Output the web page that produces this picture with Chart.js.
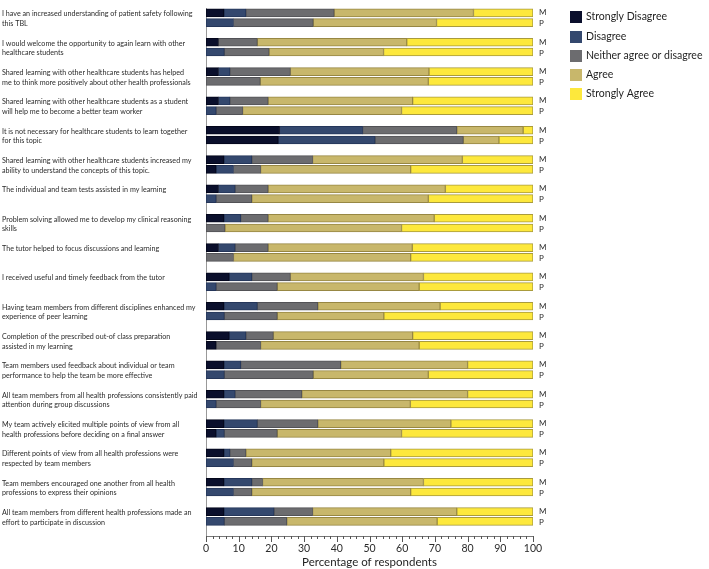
<!DOCTYPE html>
<html lang="en">
<head>
    <meta charset="UTF-8">
    <title>Perceptions of TBL by profession</title>
    <script src="https://cdn.jsdelivr.net/npm/chart.js"></script>
    <style>
        html, body { margin: 0; padding: 0; background: #ffffff; }
        #wrap { width: 709px; height: 569px; }
    </style>
</head>
<body>
    <div id="wrap"><canvas id="tblChart" width="709" height="569"></canvas></div>

    <script>
        // statements (each entry = lines of the label)
        const questions = [
            ['I have an increased understanding of patient safety following', 'this TBL'],
            ['I would welcome the opportunity to again learn with other', 'healthcare students'],
            ['Shared learning with other healthcare students has helped', 'me to think more positively about other health professionals'],
            ['Shared learning with other healthcare students as a student', 'will help me to become a better team worker'],
            ['It is not necessary for healthcare students to learn together', 'for this topic'],
            ['Shared learning with other healthcare students increased my', 'ability to understand the concepts of this topic.'],
            ['The individual and team tests assisted in my learning'],
            ['Problem solving allowed me to develop my clinical reasoning', 'skills'],
            ['The tutor helped to focus discussions and learning'],
            ['I received useful and timely feedback from the tutor'],
            ['Having team members from different disciplines enhanced my', 'experience of peer learning'],
            ['Completion of the prescribed out-of class preparation', 'assisted in my learning'],
            ['Team members used feedback about individual or team', 'performance to help the team be more effective'],
            ['All team members from all health professions consistently paid', 'attention during group discussions'],
            ['My team actively elicited multiple points of view from all', 'health professions before deciding on a final answer'],
            ['Different points of view from all health professions were', 'respected by team members'],
            ['Team members encouraged one another from all health', 'professions to express their opinions'],
            ['All team members from different health professions made an', 'effort to participate in discussion']
        ];
        const groups = ['M', 'P'];
        const responses = ['Strongly Disagree', 'Disagree', 'Neither agree or disagree', 'Agree', 'Strongly Agree'];

        // percentages, M = first bar, P = second bar of each statement
        const stronglyDisagreeM = [5.5, 3.8, 3.8, 3.8, 22.5, 5.5, 3.8, 5.5, 3.8, 7.1, 5.5, 7.1, 5.5, 5.5, 5.5, 5.5, 5.5, 5.5];
        const stronglyDisagreeP = [0, 0, 0, 0, 22.1, 3.1, 0, 0, 0, 0, 0, 3.1, 0, 0, 3.1, 0, 0, 0];
        const disagreeM = [6.7, 0, 3.5, 3.5, 25.4, 8.5, 5.1, 5.1, 5.1, 6.9, 10.2, 5.1, 5.1, 3.4, 10.2, 1.8, 8.5, 15.3];
        const disagreeP = [8.4, 5.6, 0, 3.1, 29.6, 5.3, 3.1, 0, 0, 3.1, 5.6, 0, 5.6, 3.1, 2.5, 8.4, 8.4, 5.6];
        const neitherM = [27.0, 11.9, 18.5, 11.7, 28.8, 18.6, 10.1, 8.4, 10.1, 11.8, 18.5, 8.4, 30.6, 20.4, 18.5, 4.9, 3.3, 11.8];
        const neitherP = [24.4, 13.7, 16.6, 8.1, 27.0, 8.3, 10.9, 5.8, 8.4, 18.7, 16.2, 13.6, 27.2, 13.6, 16.2, 5.6, 5.6, 19.1];
        const agreeM = [42.6, 45.7, 42.4, 44.2, 20.3, 45.8, 54.2, 50.8, 44.1, 40.7, 37.4, 42.6, 38.8, 50.7, 40.7, 44.3, 49.2, 44.1];
        const agreeP = [37.7, 35.0, 51.4, 48.6, 10.9, 45.9, 54.0, 54.0, 54.2, 43.4, 32.6, 48.5, 35.2, 45.8, 38.0, 40.4, 48.6, 46.0];
        const stronglyAgreeM = [18.2, 38.6, 31.8, 36.8, 3.0, 21.6, 26.8, 30.2, 36.9, 33.5, 28.4, 36.8, 20.0, 20.0, 25.1, 43.5, 33.5, 23.3];
        const stronglyAgreeP = [29.5, 45.7, 32.0, 40.2, 10.4, 37.4, 32.0, 40.2, 37.4, 34.8, 45.6, 34.8, 32.0, 37.5, 40.2, 45.6, 37.4, 29.3];

        const seriesM = [stronglyDisagreeM, disagreeM, neitherM, agreeM, stronglyAgreeM];
        const seriesP = [stronglyDisagreeP, disagreeP, neitherP, agreeP, stronglyAgreeP];

        const fillColors = ['#0a0f2c', '#34486e', '#6c6c6f', '#c8b76b', '#fde83c'];
        const edgeColors = ['#03061a', '#25365a', '#525256', '#978743', '#a99b3c'];

        // three slots per statement: M bar, P bar, empty spacer
        const slots = [];
        questions.forEach((q, i) => { slots.push('q' + i + 'M', 'q' + i + 'P', 'q' + i + 'gap'); });

        const datasets = responses.map((name, r) => {
            const data = [];
            questions.forEach((q, i) => {
                data.push(seriesM[r][i], seriesP[r][i], null);
            });
            return {
                label: name,
                data: data,
                backgroundColor: fillColors[r],
                borderColor: edgeColors[r],
                borderWidth: 1,
                borderSkipped: false,
                barThickness: 8
            };
        });

        const FONT = 'Lato, "DejaVu Sans", sans-serif';

        // question labels, M/P markers, minor ticks and legend
        const decorations = {
            id: 'decorations',
            afterDraw(chart) {
                const ctx = chart.ctx;
                const ys = chart.scales.y;
                const xs = chart.scales.x;
                const area = chart.chartArea;
                ctx.save();

                // fit the widest label line into the space left of the axis
                ctx.font = '10px ' + FONT;
                let widest = 0;
                questions.forEach(lines => lines.forEach(l => { widest = Math.max(widest, ctx.measureText(l).width); }));
                const labelSize = Math.min(8, 10 * 196 / widest);

                ctx.fillStyle = '#2b2b2b';
                ctx.textBaseline = 'middle';
                questions.forEach((lines, i) => {
                    const yM = ys.getPixelForValue(i * 3);
                    const yP = ys.getPixelForValue(i * 3 + 1);
                    ctx.font = labelSize.toFixed(2) + 'px ' + FONT;
                    ctx.textAlign = 'left';
                    lines.forEach((line, k) => {
                        ctx.fillText(line, 2, k === 0 ? yM + 1 : yP + 1);
                    });
                    ctx.font = '8px ' + FONT;
                    ctx.fillText(groups[0], area.right + 6, yM);
                    ctx.fillText(groups[1], area.right + 6, yP + 1);
                });

                // tick marks below x axis
                ctx.strokeStyle = '#555';
                ctx.lineWidth = 1;
                for (let v = 0; v <= 100; v += 2) {
                    const x = Math.round(xs.getPixelForValue(v)) + 0.5;
                    const len = v % 10 === 0 ? 6 : 3;
                    ctx.beginPath();
                    ctx.moveTo(x, area.bottom);
                    ctx.lineTo(x, area.bottom + len);
                    ctx.stroke();
                }

                // legend
                const legendY = [17, 37, 56, 75, 94];
                ctx.font = '10.5px ' + FONT;
                ctx.textAlign = 'left';
                responses.forEach((name, r) => {
                    ctx.fillStyle = fillColors[r];
                    ctx.fillRect(570, legendY[r] - 6, 12, 12);
                    ctx.fillStyle = '#1f1f1f';
                    ctx.fillText(name, 586, legendY[r]);
                });
                ctx.restore();
            }
        };

        new Chart(document.getElementById('tblChart'), {
            type: 'bar',
            data: { labels: slots, datasets: datasets },
            options: {
                indexAxis: 'y',
                responsive: false,
                animation: false,
                devicePixelRatio: 1,
                layout: { padding: { left: 206, right: 176, top: 8, bottom: 0 } },
                plugins: {
                    legend: { display: false },
                    tooltip: { enabled: false }
                },
                scales: {
                    x: {
                        stacked: true,
                        min: 0,
                        max: 100,
                        ticks: { stepSize: 10, padding: 6, color: '#2b2b2b', font: { family: FONT, size: 10.5 } },
                        grid: { display: false, drawTicks: false },
                        border: { display: true, color: '#777' },
                        title: {
                            display: true,
                            text: 'Percentage of respondents',
                            color: '#1f1f1f',
                            font: { family: FONT, size: 11.5 },
                            padding: { top: 0, bottom: 0 }
                        },
                        afterFit(scale) { scale.height = 33; }
                    },
                    y: {
                        stacked: true,
                        ticks: { display: false },
                        grid: { display: false, drawTicks: false },
                        border: { display: true, color: '#999' },
                        afterFit(scale) { scale.width = 0; }
                    }
                }
            },
            plugins: [decorations]
        });
    </script>
</body>
</html>
